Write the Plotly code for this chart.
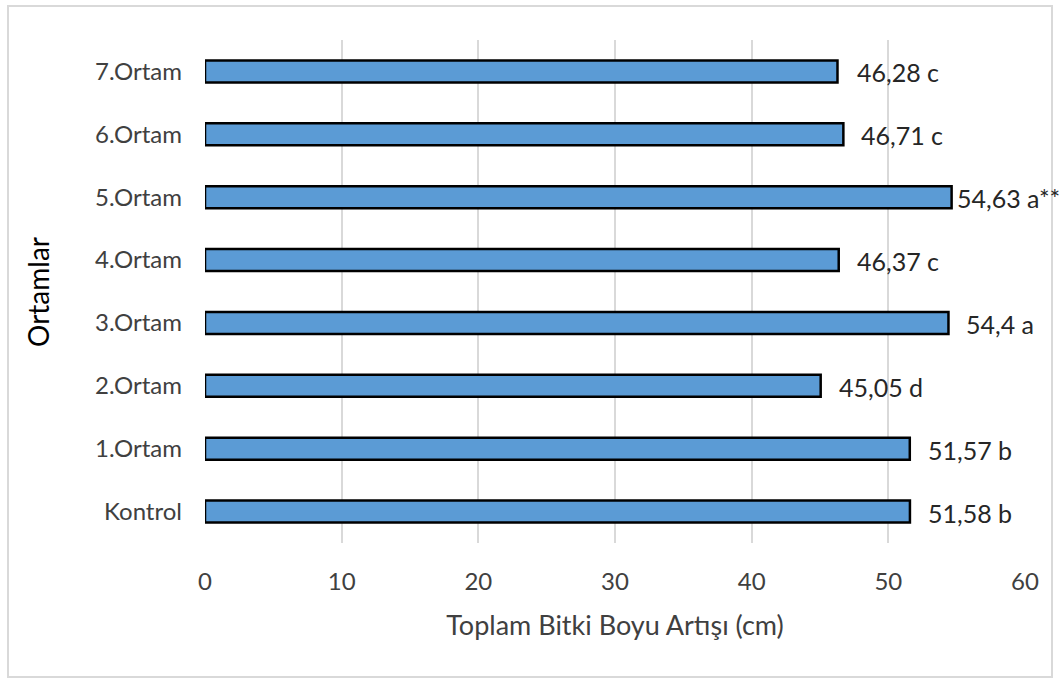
import plotly.graph_objects as go

categories = ["Kontrol", "1.Ortam", "2.Ortam", "3.Ortam", "4.Ortam", "5.Ortam", "6.Ortam", "7.Ortam"]
values = [51.58, 51.57, 45.05, 54.4, 46.37, 54.63, 46.71, 46.28]
labels = ["51,58 b", "51,57 b", "45,05 d", "54,4 a", "46,37 c", "54,63 a**", "46,71 c", "46,28 c"]
label_gap = [16, 16, 16, 16, 16, 3, 16, 18]

FONT = "Lato"

fig = go.Figure()
fig.add_trace(go.Bar(
    y=categories, x=values, orientation="h",
    marker=dict(color="#5B9BD5", line=dict(color="black", width=2.5)),
    cliponaxis=False, showlegend=False, hoverinfo="x+y",
))

for c, v, t, g in zip(categories, values, labels, label_gap):
    fig.add_annotation(x=v, y=c, text=t, showarrow=False, xanchor="left",
                       xshift=g, yshift=-1,
                       font=dict(family=FONT, size=25, color="#262626"))

W, H = 1062, 682
L, R, T, B = 205, 37, 40, 139
pw, ph = W - L - R, H - T - B

def px_x(p):
    return (p - L) / pw

def px_y(p):
    return (H - B - p) / ph

# vertical axis title placed as annotation (left of tick labels)
fig.add_annotation(xref="paper", yref="paper", x=px_x(38), y=px_y(292),
                   text="Ortamlar", textangle=-90, showarrow=False,
                   xanchor="center", yanchor="middle",
                   font=dict(family=FONT, size=28, color="#000000"))

fig.update_layout(
    width=W, height=H,
    margin=dict(l=L, r=R, t=T, b=B),
    paper_bgcolor="white", plot_bgcolor="white",
    bargap=0.65,
    font=dict(family=FONT, size=24, color="#404040"),
    xaxis=dict(
        range=[0, 60], dtick=10, showgrid=True, gridcolor="#d9d9d9", gridwidth=2,
        zeroline=False, showline=False, ticks="", ticklabelstandoff=22,
        tickfont=dict(family=FONT, size=24, color="#404040"),
        title=dict(text="Toplam Bitki Boyu Artışı (cm)", standoff=22,
                   font=dict(family=FONT, size=27, color="#404040")),
        fixedrange=True,
    ),
    yaxis=dict(
        categoryorder="array", categoryarray=categories,
        showgrid=False, zeroline=False, showline=False, ticks="",
        ticklabelstandoff=22,
        tickfont=dict(family=FONT, size=24, color="#404040"),
    ),
    shapes=[dict(type="rect", xref="paper", yref="paper",
                 x0=px_x(8), x1=px_x(1052), y0=px_y(677), y1=px_y(6),
                 line=dict(color="#d9d9d9", width=2), fillcolor="rgba(0,0,0,0)",
                 layer="below")],
)

fig.write_html("out.html")
